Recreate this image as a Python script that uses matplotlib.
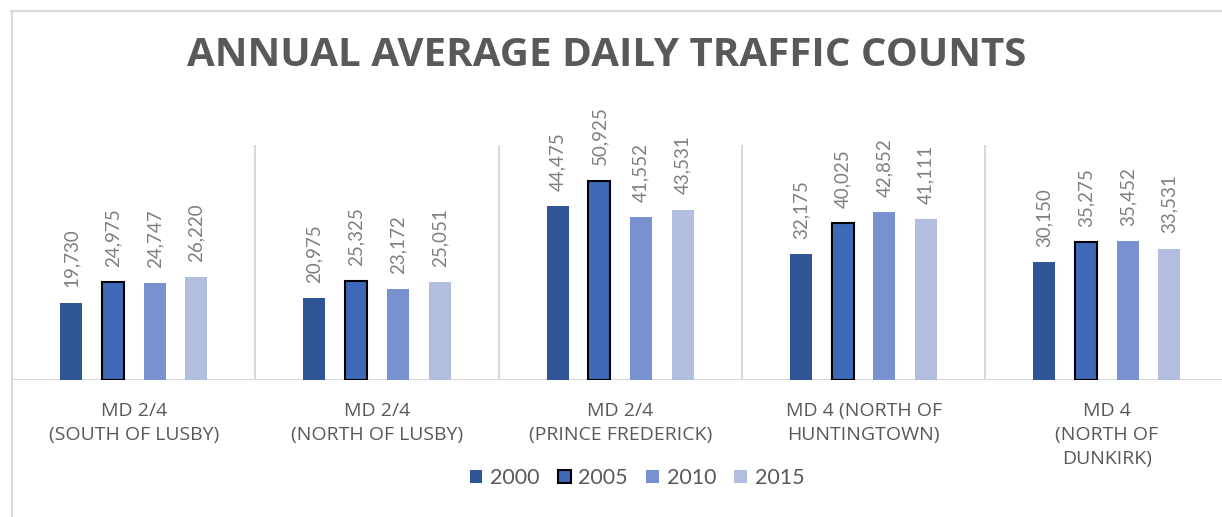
import matplotlib
matplotlib.use("Agg")
import matplotlib.pyplot as plt
from matplotlib.lines import Line2D
import numpy as np

categories = ["MD 2/4\n(SOUTH OF LUSBY)", "MD 2/4\n(NORTH OF LUSBY)",
              "MD 2/4\n(PRINCE FREDERICK)", "MD 4 (NORTH OF\nHUNTINGTOWN)",
              "MD 4\n(NORTH OF\nDUNKIRK)"]
years = ["2000", "2005", "2010", "2015"]
v2000 = [19730, 20975, 44475, 32175, 30150]
v2005 = [24975, 25325, 50925, 40025, 35275]
v2010 = [24747, 23172, 41552, 42852, 35452]
v2015 = [26220, 25051, 43531, 41111, 33531]
series = [v2000, v2005, v2010, v2015]
colors = ["#2F5597", "#3D69B8", "#7892CF", "#B2BDDF"]
title = "ANNUAL AVERAGE DAILY TRAFFIC COUNTS"

W, H = 1222, 517
fig = plt.figure(figsize=(W / 100, H / 100), dpi=100)
fig.patch.set_facecolor("white")

cat_w = 243.3
left_px, base_px, top_px = 12, 380, 145
ax = fig.add_axes([left_px / W, (H - base_px) / H, 5 * cat_w / W, (base_px - top_px) / H])
ax.set_xlim(-0.5, 4.5)
ax.set_ylim(0, 60000)

x = np.arange(len(categories))
bw = 22 / cat_w
step = 41.7 / cat_w
offsets = (np.arange(4) - 1.5) * step
grey_lbl = "#7F7F7F"
for i, (vals, col, yr) in enumerate(zip(series, colors, years)):
    if yr == "2005":
        bars = ax.bar(x + offsets[i], vals, bw, color=col, edgecolor="black", linewidth=1.5, label=yr, zorder=3)
    else:
        bars = ax.bar(x + offsets[i], vals, bw, color=col, linewidth=0, label=yr, zorder=3)
    ax.bar_label(bars, labels=[f"{v:,}" for v in vals], rotation=90, padding=11,
                 fontsize=13.5, color=grey_lbl, family="Lato")

for b in np.arange(-0.5, 5.0, 1.0):
    ax.axvline(b, color="#D9D9D9", lw=1.5, zorder=1)
ax.axhline(0, color="#D9D9D9", lw=1.5, zorder=2)

for s in ax.spines.values():
    s.set_visible(False)
ax.set_yticks([])
ax.set_xticks(x)
ax.set_xticklabels(categories, fontsize=14, color="#595959", family="Open Sans", linespacing=1.42)
ax.tick_params(axis="x", length=0, pad=16)
ax.set_facecolor("none")

fig.text(607 / W, 1 - 56 / H, title, ha="center", va="center", fontsize=29,
         fontweight="bold", color="#595959", family="Open Sans")

leg = fig.legend(loc="center", bbox_to_anchor=(637 / W, 1 - 478 / H), ncol=4, frameon=False,
                 prop={"family": "Lato", "size": 15.5}, handlelength=0.6, handleheight=0.6,
                 handletextpad=0.35, columnspacing=0.85)
for t in leg.get_texts():
    t.set_color("#595959")

fig.add_artist(Line2D([11 / W, 1.0], [1 - 11 / H, 1 - 11 / H], color="#D9D9D9", lw=1.5))
fig.add_artist(Line2D([11.5 / W, 11.5 / W], [0, 1 - 11 / H], color="#D9D9D9", lw=1.5))

fig.savefig("out.png", dpi=100, facecolor="white")
